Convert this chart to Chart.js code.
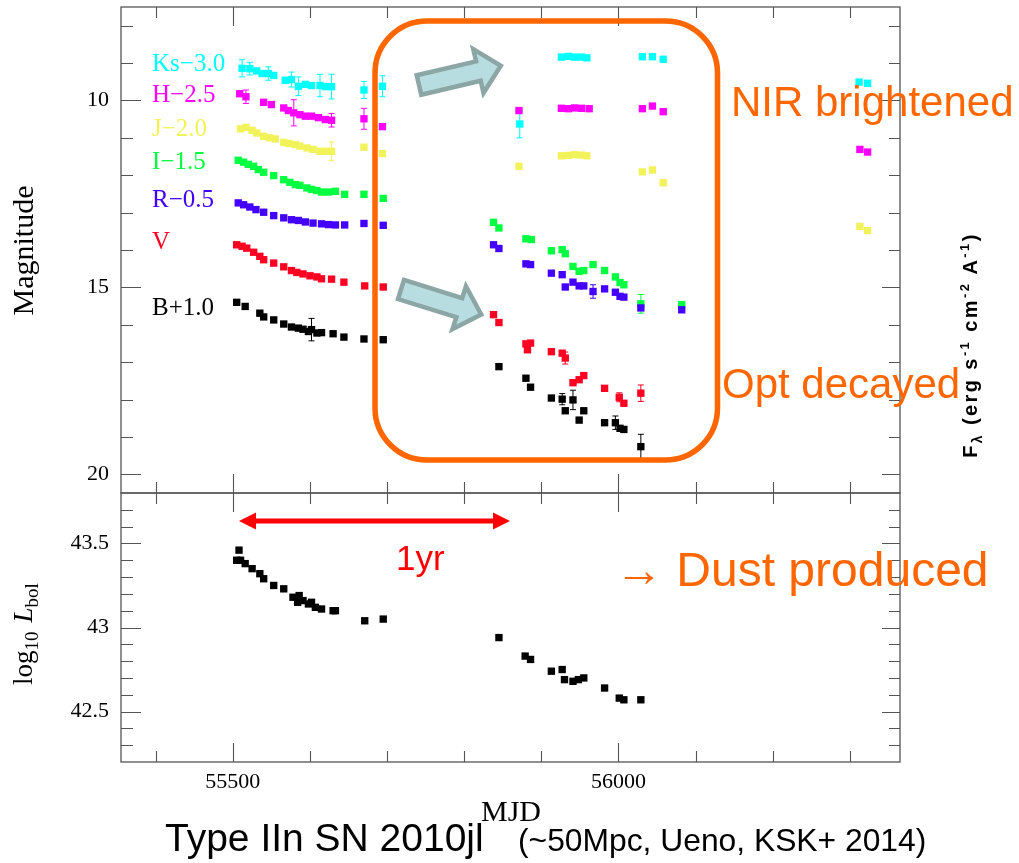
<!DOCTYPE html>
<html>
<head>
<meta charset="utf-8">
<script src="https://cdn.jsdelivr.net/npm/chart.js@4.4.1/dist/chart.umd.min.js"></script>
<style>
  html, body { margin: 0; padding: 0; background: #fff; }
  #wrap { position: relative; width: 1019px; height: 863px; overflow: hidden; background: #fff; }
  canvas { position: absolute; left: 0; top: 0; }
  svg { position: absolute; left: 0; top: 0; }
</style>
</head>
<body>
<div id="wrap">
  <canvas id="top" width="1019" height="863"></canvas>
  <canvas id="bot" width="1019" height="863"></canvas>
  <svg width="1019" height="863" xmlns="http://www.w3.org/2000/svg">
    <!-- orange box -->
    <rect x="375" y="21" width="342.5" height="439" rx="52" ry="52" fill="none" stroke="#FF6600" stroke-width="5.5"/>
    <!-- block arrows -->
    <polygon transform="translate(419,85) rotate(-13.2)" points="0,-10 61,-10 61,-22.5 84,0 61,22.5 61,10 0,10" fill="#b7dde0" stroke="#8ca5a5" stroke-width="4.5" stroke-linejoin="miter"/>
    <polygon transform="translate(401,289.5) rotate(17.3)" points="0,-10 61,-10 61,-22.5 84,0 61,22.5 61,10 0,10" fill="#b7dde0" stroke="#8ca5a5" stroke-width="4.5" stroke-linejoin="miter"/>
    <!-- red double arrow -->
    <line x1="254" y1="521" x2="495" y2="521" stroke="#FF0000" stroke-width="5"/>
    <polygon points="239,521 256,512.5 256,529.5" fill="#FF0000"/>
    <polygon points="510,521 493,512.5 493,529.5" fill="#FF0000"/>
    <text x="396" y="570" font-family="Liberation Sans, Arial, sans-serif" font-size="35" fill="#FF0000">1yr</text>
    <!-- annotations -->
    <text x="731" y="116" font-family="Liberation Sans, Arial, sans-serif" font-size="42" fill="#FF6600">NIR brightened</text>
    <text x="722" y="398" font-family="Liberation Sans, Arial, sans-serif" font-size="42" fill="#FF6600">Opt decayed</text>
    <text x="615" y="586" font-family="Liberation Sans, Arial, sans-serif" font-size="48" fill="#FF6600">→ Dust produced</text>
    <!-- band labels -->
    <g font-family="Liberation Serif, 'Times New Roman', serif" font-size="25">
      <text x="152" y="71" fill="#00FFFF">Ks−3.0</text>
      <text x="152" y="102" fill="#FF00FF">H−2.5</text>
      <text x="152" y="136" fill="#F2F25A">J−2.0</text>
      <text x="152" y="169" fill="#00FF40">I−1.5</text>
      <text x="152" y="207" fill="#4400FF">R−0.5</text>
      <text x="152" y="249" fill="#FF0022">V</text>
      <text x="152" y="315" fill="#000000">B+1.0</text>
    </g>
    <!-- axis titles -->
    <text transform="translate(33,250.5) rotate(-90)" text-anchor="middle" font-family="Liberation Serif, 'Times New Roman', serif" font-size="30" fill="#000">Magnitude</text>
    <text transform="translate(32,634) rotate(-90)" text-anchor="middle" font-family="Liberation Serif, 'Times New Roman', serif" font-size="27" fill="#000">log<tspan font-size="19" dy="6">10</tspan><tspan dy="-6" dx="9" font-style="italic">L</tspan><tspan font-size="19" dy="6">bol</tspan></text>
    <text x="511" y="821" text-anchor="middle" font-family="Liberation Serif, 'Times New Roman', serif" font-size="30" fill="#000">MJD</text>
    <!-- right-side label -->
    <text transform="translate(977,345) rotate(-90)" text-anchor="middle" font-family="Liberation Sans, Arial, sans-serif" font-weight="bold" font-size="20" fill="#000" letter-spacing="2.4">F<tspan font-size="14" dy="5">λ</tspan><tspan dy="-5"> (erg s</tspan><tspan font-size="13" dy="-8">-1</tspan><tspan dy="8"> cm</tspan><tspan font-size="13" dy="-8">-2</tspan><tspan dy="8"> A</tspan><tspan font-size="13" dy="-8">-1</tspan><tspan dy="8">)</tspan></text>
    <!-- title -->
    <text x="165" y="851" font-family="Liberation Sans, Arial, sans-serif" font-size="39" fill="#000">Type IIn SN 2010jl</text>
    <text x="518" y="851" font-family="Liberation Sans, Arial, sans-serif" font-size="31.8" fill="#000">(~50Mpc, Ueno, KSK+ 2014)</text>
  </svg>
</div>
<script>
// ---------------- DATA (plotted values, offsets as in labels) ----------------
const ksMJD = [55512,55522,55531,55538,55546,55553,55568,55576,55585,55594,55602,55613,55620,55628,55670,55694,55872,55926,55935,55943,55952,55959,56031,56044,56058,56312,56323];
const ksMag = [9.14,9.15,9.21,9.28,9.28,9.33,9.46,9.44,9.62,9.57,9.60,9.60,9.63,9.63,9.72,9.62,10.63,8.84,8.82,8.84,8.84,8.86,8.83,8.83,8.90,9.51,9.54];
const ksErr = [0.23,0.17,0,0,0.18,0,0,0.2,0.25,0,0,0.3,0,0.33,0.23,0.28,0.37,0,0,0,0,0,0,0,0,0,0];

const hMJD = [55509,55517,55540,55550,55566,55572,55579,55587,55594,55602,55611,55620,55628,55670,55694,55871,55926,55935,55943,55952,55962,56031,56044,56058,56313,56323];
const hMag = [9.82,9.90,10.05,10.11,10.20,10.27,10.33,10.38,10.42,10.42,10.46,10.51,10.53,10.49,10.70,10.27,10.21,10.22,10.20,10.21,10.22,10.22,10.15,10.30,11.31,11.38];
const hErr = [0,0.18,0,0,0,0,0.35,0,0,0,0,0,0.18,0.28,0,0,0,0,0,0,0,0,0,0,0,0];

const jMJD = [55510,55517,55525,55531,55540,55548,55555,55566,55572,55581,55587,55596,55604,55613,55620,55628,55670,55694,55871,55926,55935,55943,55952,55959,56031,56044,56058,56313,56323];
const jMag = [10.76,10.72,10.80,10.87,10.96,11.00,11.03,11.12,11.15,11.18,11.22,11.27,11.31,11.36,11.36,11.36,11.25,11.42,11.76,11.48,11.47,11.45,11.46,11.48,11.91,11.86,12.20,13.37,13.48];
const jErr = [0,0,0,0,0,0,0,0,0,0,0,0,0,0,0,0.25,0,0,0,0,0,0,0,0,0,0,0,0,0];

const iMJD = [55507,55514,55520,55527,55533,55540,55553,55566,55574,55581,55587,55596,55602,55609,55615,55624,55633,55645,55670,55695,55838,55845,55880,55887,55913,55927,55931,55941,55949,55955,55967,55982,55996,56002,56007,56029,56082];
const iMag = [11.60,11.65,11.71,11.76,11.85,11.92,12.01,12.12,12.19,12.25,12.27,12.34,12.38,12.41,12.45,12.45,12.43,12.51,12.51,12.62,13.26,13.41,13.70,13.72,14.02,13.99,14.10,14.44,14.57,14.55,14.39,14.55,14.72,14.87,14.93,15.44,15.46];
const iErr = [0,0,0,0,0,0,0,0,0,0,0,0,0,0,0,0,0,0,0,0,0,0,0,0,0,0,0,0,0,0,0,0,0,0,0,0.25,0];

const rMJD = [55507,55514,55522,55530,55540,55553,55566,55576,55585,55594,55604,55615,55624,55633,55645,55670,55695,55838,55845,55880,55886,55913,55927,55931,55941,55949,55955,55967,55982,55996,56002,56007,56029,56082];
const rMag = [12.74,12.79,12.85,12.92,12.99,13.08,13.14,13.19,13.21,13.25,13.28,13.30,13.32,13.33,13.33,13.29,13.34,13.86,13.96,14.37,14.39,14.62,14.66,14.99,14.86,14.96,14.96,15.11,15.04,15.13,15.24,15.26,15.55,15.60];
const rErr = [0,0,0,0,0,0,0,0,0,0,0,0,0,0,0,0,0,0,0,0,0,0,0,0,0,0,0,0.18,0,0,0,0,0,0];

const vMJD = [55505,55512,55518,55527,55535,55540,55553,55566,55576,55583,55591,55600,55609,55615,55628,55644,55671,55695,55838,55845,55880,55882,55886,55913,55927,55931,55941,55949,55955,55982,56001,56007,56029];
const vMag = [13.86,13.90,13.95,14.06,14.17,14.26,14.35,14.45,14.55,14.60,14.64,14.69,14.72,14.77,14.78,14.86,14.96,14.99,15.73,15.94,16.51,16.67,16.49,16.72,16.76,16.89,17.55,17.47,17.36,17.70,17.94,18.10,17.83];
const vErr = [0,0,0,0,0,0,0,0,0,0,0,0,0,0,0,0,0,0,0,0,0,0,0,0,0,0.16,0,0,0,0,0.12,0,0.22];

const bMJD = [55505,55516,55535,55540,55553,55566,55576,55585,55591,55598,55602,55609,55615,55630,55644,55670,55695,55845,55880,55886,55913,55927,55931,55941,55949,55955,55982,55996,56002,56007,56029];
const bMag = [15.40,15.51,15.69,15.79,15.87,15.98,16.06,16.09,16.12,16.18,16.13,16.22,16.21,16.24,16.33,16.38,16.40,17.12,17.43,17.67,17.96,17.99,18.30,18.01,18.55,18.30,18.62,18.62,18.77,18.80,19.26];
const bErr = [0,0,0,0,0,0,0,0,0,0,0.3,0,0,0,0,0,0,0,0,0,0,0.15,0,0.26,0,0,0,0.18,0,0,0.33];

const lbolMJD = [55505,55508,55510,55516,55525,55535,55540,55553,55566,55578,55584,55586,55591,55598,55602,55607,55615,55630,55633,55671,55695,55845,55879,55886,55913,55927,55930,55941,55948,55955,55982,56001,56007,56029];
const lbolVal = [43.40,43.46,43.40,43.38,43.35,43.32,43.29,43.25,43.23,43.18,43.15,43.19,43.16,43.14,43.15,43.12,43.11,43.10,43.10,43.04,43.05,42.94,42.83,42.81,42.74,42.75,42.69,42.68,42.69,42.70,42.64,42.58,42.57,42.57];

// tick labels and tick marks
const mjdTicks = [55500, 56000];
const mjdTickMarks = [55400, 55600, 55700, 55800, 55900, 56100, 56200, 56300];
const magTicks = [10, 15, 20];
const magTickMarks = [8, 9, 11, 12, 13, 14, 16, 17, 18, 19];
const lbolTicks = [42.5, 43, 43.5];
const lbolTickMarks = [42.3, 42.4, 42.6, 42.7, 42.8, 42.9, 43.1, 43.2, 43.3, 43.4, 43.6, 43.7];

// ---------------- helpers ----------------
const pts = (xs, ys) => xs.map((x, i) => ({ x, y: ys[i] }));
const mkSet = (label, xs, ys, errs, color) => ({
  label, data: pts(xs, ys), errors: errs,
  backgroundColor: color, borderColor: color, borderWidth: 0,
  pointStyle: 'rect', pointRadius: 5.2, pointHoverRadius: 5.2, showLine: false
});

const framePlugin = {
  id: 'frame',
  beforeDatasetsDraw(chart, args, opts) {
    const { ctx, chartArea: a, scales: { x, y } } = chart;
    ctx.save();
    ctx.strokeStyle = '#555';
    ctx.lineWidth = 1.3;
    ctx.strokeRect(a.left, a.top, a.right - a.left, a.bottom - a.top);
    ctx.beginPath();
    const xt = (v, len) => {
      const px = Math.round(x.getPixelForValue(v)) + 0.5;
      ctx.moveTo(px, a.top); ctx.lineTo(px, a.top + len);
      ctx.moveTo(px, a.bottom); ctx.lineTo(px, a.bottom - len);
    };
    const yt = (v, lenL, lenR) => {
      const py = Math.round(y.getPixelForValue(v)) + 0.5;
      ctx.moveTo(a.left, py); ctx.lineTo(a.left + lenL, py);
      ctx.moveTo(a.right, py); ctx.lineTo(a.right - lenR, py);
    };
    mjdTickMarks.forEach(v => xt(v, 11));
    mjdTicks.forEach(v => xt(v, 19));
    opts.yMinor.forEach(v => yt(v, 12, 11));
    opts.yMajor.forEach(v => yt(v, 20, 18));
    ctx.lineWidth = 1.1;
    ctx.stroke();
    ctx.restore();
  }
};

const errPlugin = {
  id: 'errbars',
  beforeDatasetsDraw(chart) {
    const { ctx, scales: { x, y } } = chart;
    ctx.save();
    chart.data.datasets.forEach(ds => {
      if (!ds.errors) return;
      ctx.strokeStyle = ds.borderColor;
      ctx.lineWidth = 1;
      ds.data.forEach((p, i) => {
        const e = ds.errors[i];
        if (!e) return;
        const px = x.getPixelForValue(p.x);
        const y1 = y.getPixelForValue(p.y - e);
        const y2 = y.getPixelForValue(p.y + e);
        ctx.beginPath();
        ctx.moveTo(px, y1); ctx.lineTo(px, y2);
        ctx.moveTo(px - 3, y1); ctx.lineTo(px + 3, y1);
        ctx.moveTo(px - 3, y2); ctx.lineTo(px + 3, y2);
        ctx.stroke();
      });
    });
    ctx.restore();
  }
};

const serif = "'Liberation Serif', 'Times New Roman', serif";
const setTicks = arr => scale => { scale.ticks = arr.map(v => ({ value: v })); };
const fixW = w => s => { s.width = w; s.paddingTop = 0; s.paddingBottom = 0; s.paddingLeft = 0; s.paddingRight = 0; };
const fixH = h => s => { s.height = h; s.paddingTop = 0; s.paddingBottom = 0; s.paddingLeft = 0; s.paddingRight = 0; };

Chart.defaults.animation = false;

// ---------------- top panel: magnitudes ----------------
new Chart(document.getElementById('top'), {
  type: 'scatter',
  data: {
    datasets: [
      mkSet('B+1.0', bMJD, bMag, bErr, '#000000'),
      mkSet('V', vMJD, vMag, vErr, '#FF0022'),
      mkSet('R-0.5', rMJD, rMag, rErr, '#4400FF'),
      mkSet('I-1.5', iMJD, iMag, iErr, '#00FF40'),
      mkSet('J-2.0', jMJD, jMag, jErr, '#F2F25A'),
      mkSet('H-2.5', hMJD, hMag, hErr, '#FF00FF'),
      mkSet('Ks-3.0', ksMJD, ksMag, ksErr, '#00FFFF')
    ]
  },
  options: {
    responsive: false,
    animation: false,
    layout: { padding: { left: 0, right: 119, top: 7, bottom: 370 } },
    plugins: {
      legend: { display: false }, tooltip: { enabled: false },
      frame: { yMinor: magTickMarks, yMajor: magTicks }
    },
    scales: {
      x: { type: 'linear', min: 55355, max: 56365, display: false },
      y: {
        type: 'linear', reverse: true, min: 7.5, max: 20.5,
        grid: { display: false, drawTicks: false }, border: { display: false },
        ticks: { font: { family: serif, size: 22 }, color: '#000', padding: 12, callback: v => String(v) },
        afterBuildTicks: setTicks(magTicks),
        afterFit: fixW(121)
      }
    }
  },
  plugins: [framePlugin, errPlugin]
});

// ---------------- bottom panel: log10 Lbol ----------------
new Chart(document.getElementById('bot'), {
  type: 'scatter',
  data: {
    datasets: [ mkSet('log10 Lbol', lbolMJD, lbolVal, null, '#000000') ]
  },
  options: {
    responsive: false,
    animation: false,
    layout: { padding: { left: 0, right: 119, top: 493, bottom: 61 } },
    plugins: {
      legend: { display: false }, tooltip: { enabled: false },
      frame: { yMinor: lbolTickMarks, yMajor: lbolTicks }
    },
    scales: {
      x: {
        type: 'linear', min: 55355, max: 56365, position: 'bottom',
        grid: { display: false, drawTicks: false }, border: { display: false },
        ticks: { font: { family: serif, size: 22 }, color: '#000', padding: 7, maxRotation: 0, autoSkip: false, callback: v => String(v) },
        afterBuildTicks: setTicks(mjdTicks),
        afterFit: fixH(40)
      },
      y: {
        type: 'linear', min: 42.2, max: 43.8,
        grid: { display: false, drawTicks: false }, border: { display: false },
        ticks: { font: { family: serif, size: 22 }, color: '#000', padding: 12, callback: v => String(v) },
        afterBuildTicks: setTicks(lbolTicks),
        afterFit: fixW(121)
      }
    }
  },
  plugins: [framePlugin, errPlugin]
});
</script>
</body>
</html>
